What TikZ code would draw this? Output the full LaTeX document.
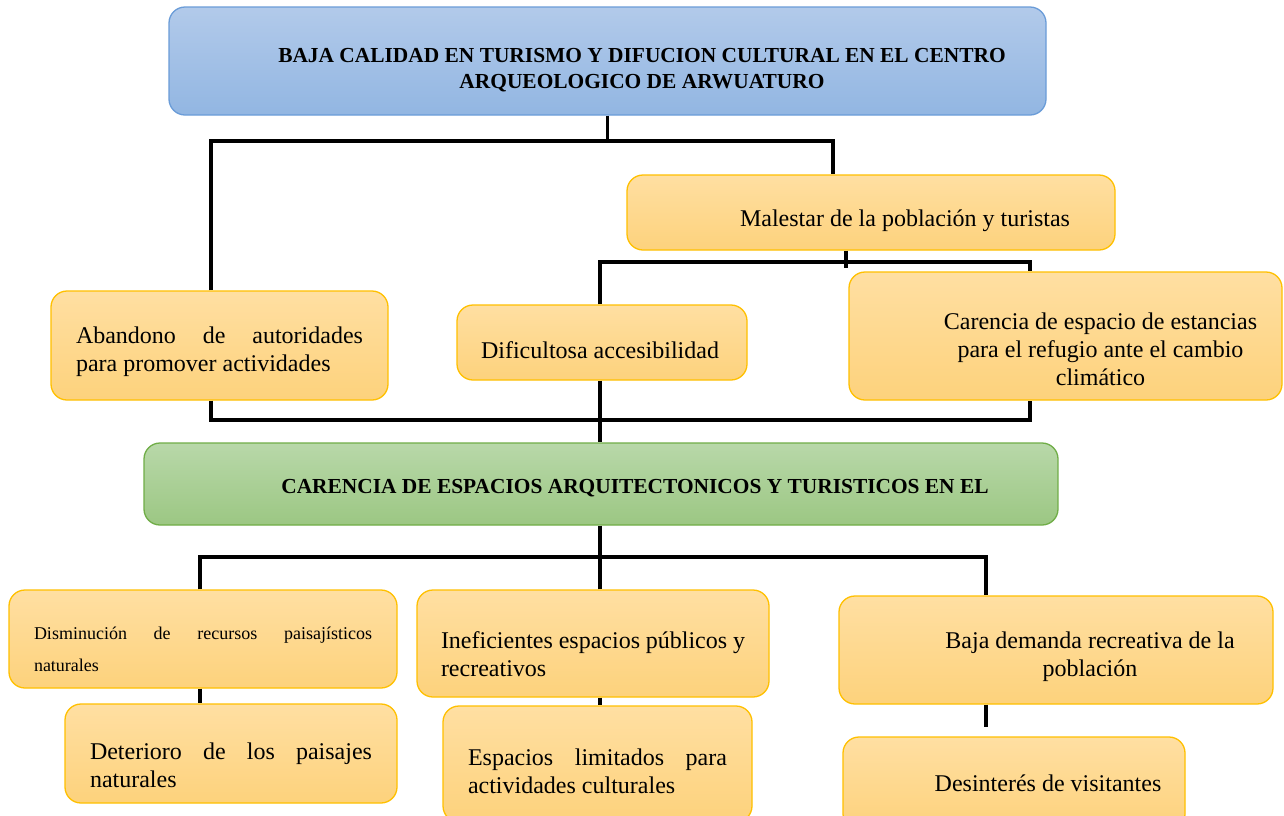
\documentclass[tikz,border=0pt]{standalone}
\usepackage{fontspec}
\setmainfont{Liberation Serif}
\definecolor{otop}{HTML}{FFDFA2}
\definecolor{obot}{HTML}{FDD27C}
\definecolor{oline}{HTML}{FFC000}
\definecolor{btop}{HTML}{B2CAEA}
\definecolor{bbot}{HTML}{92B6E2}
\definecolor{bline}{HTML}{6A9CD8}
\definecolor{gtop}{HTML}{B8D8A9}
\definecolor{gbot}{HTML}{9CC783}
\definecolor{gline}{HTML}{70AD47}
\tikzset{
  link/.style={line width=3.7pt},
  boxbase/.style={line width=1.3pt, rounded corners=16pt},
  obox/.style={boxbase, draw=oline, top color=otop, bottom color=obot},
  bbox/.style={boxbase, draw=bline, top color=btop, bottom color=bbot},
  gbox/.style={boxbase, draw=gline, top color=gtop, bottom color=gbot},
  txt/.style={font=\fontsize{24}{28}\selectfont, inner sep=0pt},
  just/.style={txt, align=justify},
  mid/.style={txt, align=center},
  head/.style={font=\bfseries\fontsize{21.4}{26}\selectfont, inner sep=0pt, align=center}
}
\begin{document}
\begin{tikzpicture}[x=1pt,y=-1pt]
\useasboundingbox (0,0) rectangle (1284,815);
\fill[white] (0,0) rectangle (1284,815);

\node[bbox, minimum width=877pt, minimum height=108pt,
  label={[head, xshift=34.5pt, yshift=-9pt]center:BAJA CALIDAD EN TURISMO Y DIFUCION CULTURAL EN EL CENTRO\\ARQUEOLOGICO DE ARWUATURO}] (top) at (607.5,61) {};

\node[obox, minimum width=488pt, minimum height=75pt,
  label={[mid, xshift=34pt, yshift=-8.5pt]center:Malestar de la población y turistas}] (mal) at (871,212.5) {};
\node[obox, minimum width=337pt, minimum height=109pt,
  label={[just, text width=287pt, yshift=-6.5pt]center:Abandono de autoridades\linebreak para promover actividades}] (aband) at (219.5,345.5) {};
\node[obox, minimum width=290pt, minimum height=75pt,
  label={[mid, xshift=-2pt, yshift=-7.5pt]center:Dificultosa accesibilidad}] (dific) at (602,342.5) {};
\node[obox, minimum width=433pt, minimum height=128pt,
  label={[mid, xshift=35pt, yshift=-13pt]center:Carencia de espacio de estancias\\para el refugio ante el cambio\\climático}] (caren) at (1065.5,336) {};

\node[gbox, minimum width=914pt, minimum height=82pt,
  label={[head, xshift=34pt, yshift=-4pt]center:CARENCIA DE ESPACIOS ARQUITECTONICOS Y TURISTICOS EN EL}] (prob) at (601,484) {};

\node[obox, minimum width=388pt, minimum height=98pt,
  label={[just, font=\fontsize{18}{32}\selectfont, text width=338pt, yshift=-10pt]center:Disminución de recursos paisajísticos\linebreak naturales}] (dism) at (203,639) {};
\node[obox, minimum width=352pt, minimum height=107pt,
  label={[just, text width=304pt, yshift=-10.5pt]center:Ineficientes espacios públicos y\linebreak recreativos}] (inef) at (593,643.5) {};
\node[obox, minimum width=434pt, minimum height=108pt,
  label={[mid, xshift=34pt, yshift=-7pt]center:Baja demanda recreativa de la\\población}] (baja) at (1056,650) {};

\node[obox, minimum width=332pt, minimum height=99pt,
  label={[just, text width=282pt, yshift=-11.5pt]center:Deterioro de los paisajes\linebreak naturales}] (deter) at (231,753.5) {};
\node[obox, minimum width=309pt, minimum height=116pt,
  label={[just, text width=259pt, yshift=-7.5pt]center:Espacios limitados para\linebreak actividades culturales}] (espac) at (597.5,764) {};
\node[obox, minimum width=342pt, minimum height=93pt,
  label={[mid, xshift=34pt, yshift=0.5pt]center:Desinterés de visitantes}] (desin) at (1014,783.5) {};

\coordinate (j1) at (607.5,141);
\coordinate (j2) at (846,262);
\coordinate (j3) at (600,420);
\coordinate (j4) at (600,557);
\coordinate (e1) at (986,727);

\draw[link] (top.south) -- (j1);
\draw[link] ([xshift=-8.5pt]aband.north) |- (j1) -| ([xshift=-38pt]mal.north);
\draw[link] ([xshift=-25pt]mal.south) -- ([yshift=-6pt]j2);
\draw[link] ([xshift=-2pt]dific.north) |- (j2) -| ([xshift=-35.5pt]caren.north);
\draw[link] ([xshift=-8.5pt]aband.south) |- (j3) -| ([xshift=-35.5pt]caren.south);
\draw[link] ([xshift=-2pt]dific.south) -- ([xshift=-1pt]prob.north);
\draw[link] ([xshift=-1pt]prob.south) -- (j4);
\draw[link] ([xshift=-3pt]dism.north) |- (j4) -| ([xshift=-70pt]baja.north);
\draw[link] ([xshift=7pt]inef.north) -- (j4);
\draw[link] ([xshift=-3pt]dism.south) -- ([xshift=-31pt]deter.north);
\draw[link] ([xshift=7pt]inef.south) -- ([xshift=2.5pt]espac.north);
\draw[link] ([xshift=-70pt]baja.south) -- (e1);
\end{tikzpicture}
\end{document}
